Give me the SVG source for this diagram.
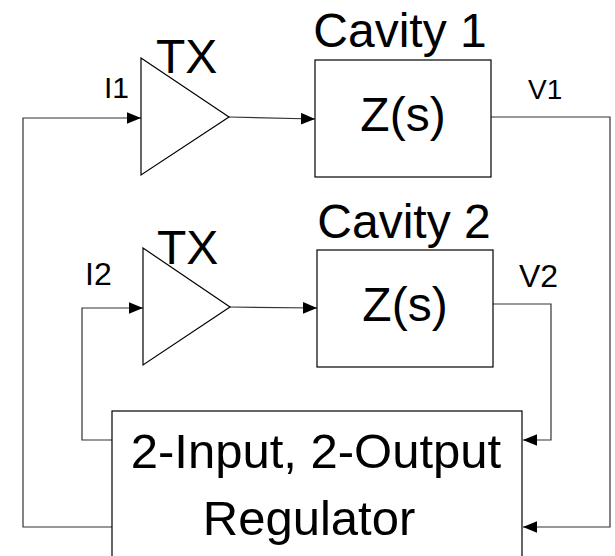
<svg xmlns="http://www.w3.org/2000/svg" width="615" height="556" viewBox="0 0 615 556">
<style>
.blk{fill:#fff;stroke:#000;stroke-width:1.2}
.ln{fill:none;stroke:#333;stroke-width:1.2}
text{font-family:"Liberation Sans",Arial,sans-serif;fill:#000}
</style>
<defs>
<marker id="ah" markerUnits="userSpaceOnUse" markerWidth="14" markerHeight="12" refX="12" refY="5" orient="auto" viewBox="0 0 12 10">
<path d="M0,0 L12,5 L0,10 Z" fill="#000"/>
</marker>
</defs>
<rect width="615" height="556" fill="#fff"/>
<g id="connectors">
<path class="ln" d="M112,527 H23 V118 H141" marker-end="url(#ah)"/>
<path class="ln" d="M112,440 H82 V308 H143" marker-end="url(#ah)"/>
<path class="ln" d="M229,117 L315,119" marker-end="url(#ah)"/>
<path class="ln" d="M230,307 L317,308" marker-end="url(#ah)"/>
<path class="ln" d="M491,117 H610 V527 H523" marker-end="url(#ah)"/>
<path class="ln" d="M493,304 H551 V440 H523" marker-end="url(#ah)"/>
</g>
<g id="tx1">
<polygon class="blk" points="141,58 229,117 141,175"/>
<text x="156" y="73" font-size="48">TX</text>
</g>
<g id="tx2">
<polygon class="blk" points="143,248 230,307 143,365"/>
<text x="157" y="264" font-size="48">TX</text>
</g>
<g id="cavity1">
<rect class="blk" x="315" y="60" width="176" height="117"/>
<text x="400" y="47" font-size="48" text-anchor="middle">Cavity 1</text>
<text x="403" y="131" font-size="48" text-anchor="middle">Z(s)</text>
</g>
<g id="cavity2">
<rect class="blk" x="317" y="250" width="176" height="117"/>
<text x="404" y="238" font-size="48" text-anchor="middle">Cavity 2</text>
<text x="405" y="321" font-size="48" text-anchor="middle">Z(s)</text>
</g>
<g id="regulator">
<rect class="blk" x="112" y="411" width="410" height="160"/>
<text x="316" y="468" font-size="49" text-anchor="middle">2-Input, 2-Output</text>
<text x="309" y="535" font-size="49" text-anchor="middle">Regulator</text>
</g>
<g id="labels">
<text x="104" y="98" font-size="30">I1</text>
<text x="528" y="99" font-size="28">V1</text>
<text x="85" y="285" font-size="32">I2</text>
<text x="519" y="287" font-size="32">V2</text>
</g>
</svg>
